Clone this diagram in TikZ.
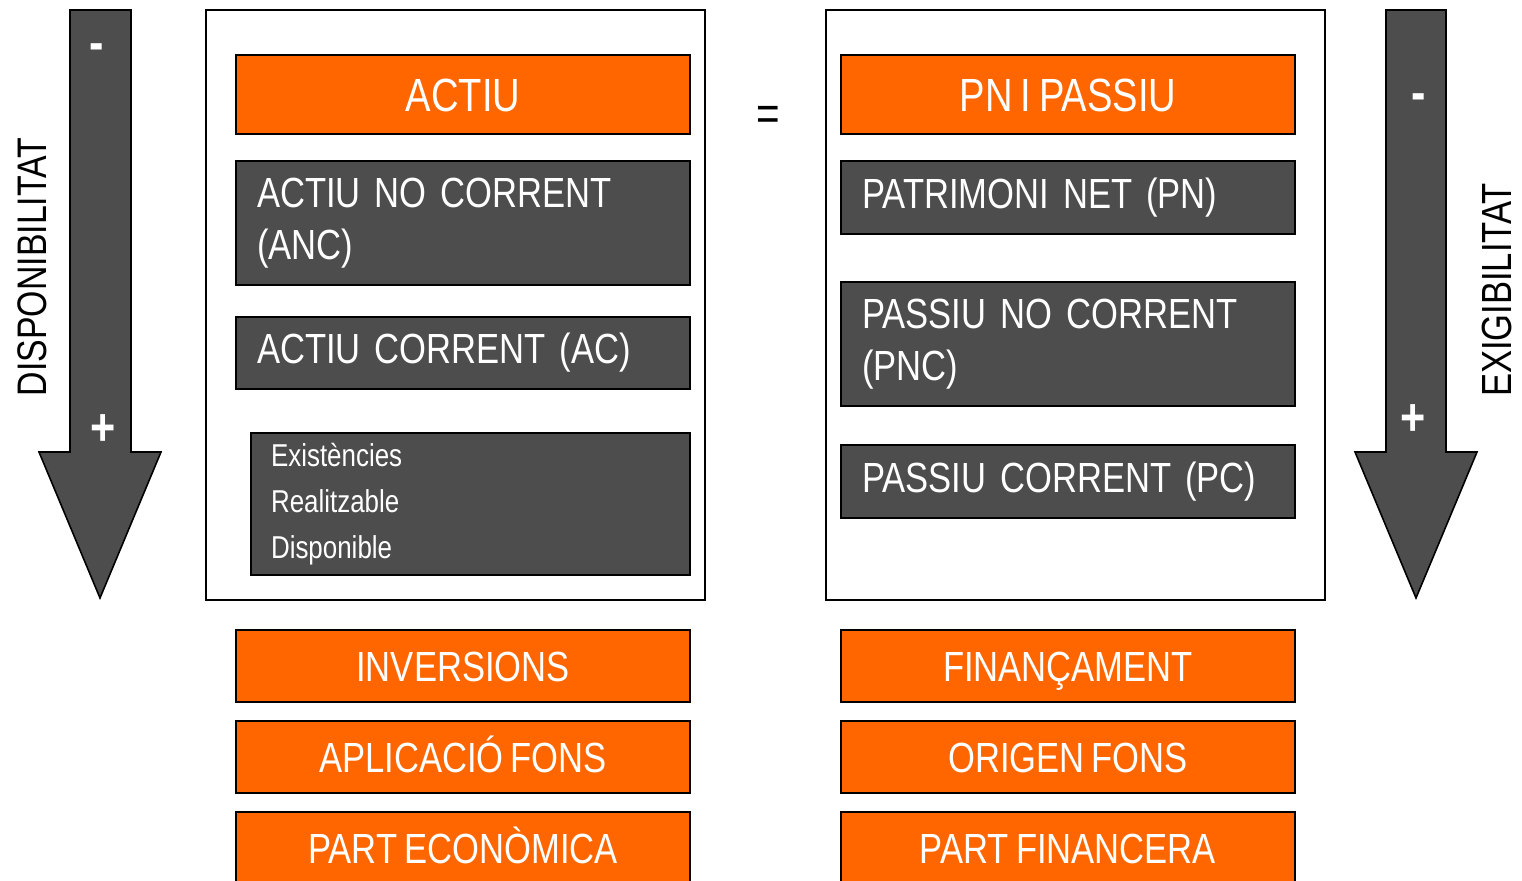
\documentclass[tikz,border=0pt]{standalone}
\usepackage{fontspec}
\setmainfont{Liberation Sans}[FakeStretch=0.82,WordSpace=0.75]
\definecolor{taronja}{HTML}{FF6600}
\definecolor{gris}{HTML}{4D4D4D}
\tikzset{
    capsa/.style={draw=black, line width=0.9pt, text=white, inner sep=0pt},
    titol/.style={capsa, fill=taronja, minimum width=9.08cm, text height=19pt, text depth=0pt, font=\fontsize{26.5}{30}\selectfont},
    peu/.style={capsa, fill=taronja, minimum width=9.08cm, minimum height=1.44cm, text height=17.2pt, text depth=0pt, font=\fontsize{24}{28}\selectfont},
    fosc/.style={capsa, fill=gris, text width=8.24cm, inner xsep=0.42cm, align=left, font=\fontsize{24}{29.5}\selectfont},
    signe/.style={text=white, font=\bfseries\fontsize{30}{32}\selectfont},
}
\begin{document}
\begin{tikzpicture}[x=0.02cm,y=-0.02cm]
    \useasboundingbox (0,0) rectangle (1522,880);
    %draw arrows
    \draw[fill=gris, line width=0.9pt] (70,10) -- (131,10) -- (131,452) -- (161,452) -- (100,598) -- (39,452) -- (70,452) -- cycle;
    \draw[fill=gris, line width=0.9pt] (1386,10) -- (1446,10) -- (1446,452) -- (1477,452) -- (1416,598) -- (1355,452) -- (1386,452) -- cycle;
    \node (menysE) [signe] at (97,52) {-};
    \node (mesE) [signe] at (103,430) {+};
    \node (menysD) [signe] at (1419,102) {-};
    \node (mesD) [signe] at (1413,420) {+};
    \node (disp) [rotate=90, font=\fontsize{23.5}{26}\selectfont] at (32,267) {DISPONIBILITAT};
    \node (exig) [rotate=90, font=\fontsize{24}{26}\selectfont] at (1497,290) {EXIGIBILITAT};
    %draw frames
    \node (esq) [draw, line width=0.9pt, minimum width=9.98cm, minimum height=11.8cm] at (455.5,305) {};
    \node (dre) [draw, line width=0.9pt, minimum width=9.98cm, minimum height=11.8cm] at (1075.5,305) {};
    \node (igual) [font=\fontsize{28}{30}\selectfont] at (768,118) {=};
    %left side
    \node (actiu) [titol, minimum height=1.58cm] at (463,94.5) {ACTIU};
    \node (anc) [fosc, minimum height=2.48cm] at (463,223) {ACTIU NO CORRENT\\(ANC)};
    \node (ac) [fosc, minimum height=1.44cm] at (463,353) {ACTIU CORRENT (AC)};
    \node (exist) [fosc, text width=7.98cm, inner xsep=0.4cm, minimum height=2.84cm,
        font=\fontsize{18}{26}\selectfont] at (470.5,504) {Existències\\Realitzable\\Disponible\\[4pt]};
    %right side
    \node (pnpassiu) [titol, minimum height=1.58cm] at (1068,94.5) {PN I PASSIU};
    \node (pn) [fosc, minimum height=1.46cm] at (1068,197.5) {PATRIMONI NET (PN)};
    \node (pnc) [fosc, minimum height=2.48cm] at (1068,344) {PASSIU NO CORRENT\\(PNC)};
    \node (pc) [fosc, minimum height=1.46cm] at (1068,481.5) {PASSIU CORRENT (PC)};
    %bottom rows
    \node (inv) [peu] at (463,666) {INVERSIONS};
    \node (aplic) [peu] at (463,757) {APLICACIÓ FONS};
    \node (parteco) [peu] at (463,848) {PART ECONÒMICA};
    \node (finan) [peu] at (1068,666) {FINANÇAMENT};
    \node (origen) [peu] at (1068,757) {ORIGEN FONS};
    \node (partfin) [peu] at (1068,848) {PART FINANCERA};
\end{tikzpicture}
\end{document}
